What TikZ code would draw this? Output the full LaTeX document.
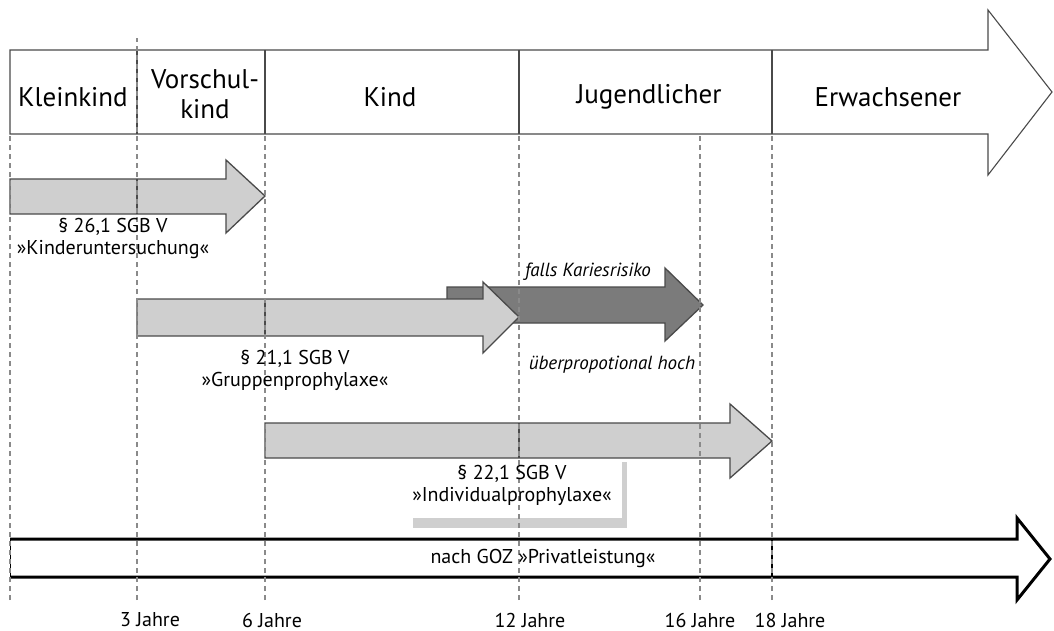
\documentclass[tikz,border=0pt]{standalone}
\usepackage{fontspec}
\setmainfont{PT Sans}
\definecolor{lightfill}{HTML}{CFCFCF}
\definecolor{darkfill}{HTML}{7B7B7B}
\definecolor{edgegray}{HTML}{4A4A4A}
\definecolor{guidegray}{HTML}{8A8A8A}
\begin{document}
\begin{tikzpicture}[x=1pt,y=-1pt,
  phase/.style={font=\fontsize{27}{30}\selectfont, align=center, inner sep=0pt},
  note/.style={font=\fontsize{20}{22}\selectfont, align=center, inner sep=0pt},
  hint/.style={font=\fontsize{19}{21}\selectfont\itshape, inner sep=0pt},
  agelabel/.style={font=\fontsize{20}{22}\selectfont, inner sep=0pt},
  guide/.style={guidegray, dash pattern=on 5pt off 4pt, line width=1.3pt},
  lightarrow/.style={fill=lightfill, draw=edgegray, line width=1.3pt},
  darkarrow/.style={fill=darkfill, draw=edgegray, line width=1.3pt},
  divider/.style={edgegray, line width=1.3pt}]
\useasboundingbox (0,0) rectangle (1054,631);

\coordinate (a0) at (10,600);
\coordinate (a3) at (137,600);
\coordinate (a6) at (265,600);
\coordinate (a12) at (519,600);
\coordinate (a16) at (700,600);
\coordinate (a18) at (772,600);

% life phases
\draw[fill=white, draw=edgegray, line width=1.1pt] (10,50) -- (988,50) -- (988,10) -- (1052,92) -- (988,175) -- (988,134) -- (10,134) -- cycle;
\draw[divider] (137,50) -- (137,134);
\draw[divider] (265,50) -- (265,134);
\draw[divider] (519,50) -- (519,134);
\draw[divider] (772,50) -- (772,134);
\node[phase] (kleinkind) at (73,97) {Kleinkind};
\node[phase] (vorschul) at (205,94) {Vorschul-\\kind};
\node[phase] (kind) at (390,97) {Kind};
\node[phase] (jugend) at (649,97) {Jugendlicher};
\node[phase] (erwachsen) at (888,97) {Erwachsener};

% benefits
\draw[lightarrow] (10,179) -- (226,179) -- (226,160) -- (265,196) -- (226,233) -- (226,214) -- (10,214) -- cycle;
\draw[divider] (137,179) -- (137,214);
\draw[darkarrow] (447,287) -- (665,287) -- (665,268) -- (703,305) -- (665,341) -- (665,323) -- (447,323) -- cycle;
\draw[lightarrow] (137,299) -- (483,299) -- (483,282) -- (519,317) -- (483,353) -- (483,336) -- (137,336) -- cycle;
\draw[divider] (265,299) -- (265,336);
\draw[lightarrow] (265,423) -- (730,423) -- (730,404) -- (772,441) -- (730,478) -- (730,458) -- (265,458) -- cycle;
\draw[divider] (519,423) -- (519,458);
\fill[lightfill] (413,518) rectangle (627,528);
\fill[lightfill] (622,462) rectangle (627,528);

% private
\draw[line width=3pt, miter limit=20] (10,539) -- (1017,539) -- (1017,518) -- (1050,559) -- (1017,600) -- (1017,577) -- (10,577);
\draw[line width=1pt] (10,539) -- (10,577);
\draw[line width=2.5pt] (772,539) -- (772,577);

\draw[guide] (a0) -- ++(0,-466);
\draw[guide] (a3) -- ++(0,-562);
\draw[guide] (a6) -- ++(0,-466);
\draw[guide] (a12) -- ++(0,-466);
\draw[guide] (a16) -- ++(0,-466);
\draw[guide] (a18) -- ++(0,-466);

\node[note] (kinderu) at (113,238) {§ 26,1 SGB V\\»Kinderuntersuchung«};
\node[note] (gruppe) at (295,370) {§ 21,1 SGB V\\»Gruppenprophylaxe«};
\node[note] (indiv) at (512,485) {§ 22,1 SGB V\\»Individualprophylaxe«};
\node[hint] (falls) at (588,272) {falls Kariesrisiko};
\node[hint] (hoch) at (612,365) {überpropotional hoch};
\node[note] (privat) at (543,558) {nach GOZ »Privatleistung«};

\node[agelabel] (j3) at (150,620) {3 Jahre};
\node[agelabel] (j6) at (272,620) {6 Jahre};
\node[agelabel] (j12) at (530,620) {12 Jahre};
\node[agelabel] (j16) at (700,620) {16 Jahre};
\node[agelabel] (j18) at (790,620) {18 Jahre};
\end{tikzpicture}
\end{document}
